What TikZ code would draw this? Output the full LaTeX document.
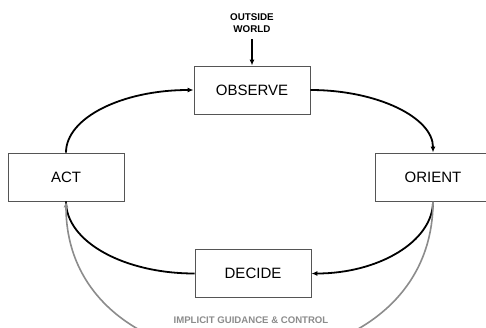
\documentclass[tikz,border=0pt]{standalone}
\usepackage{fontspec}
\setmainfont{Liberation Sans}
\usetikzlibrary{arrows.meta}
\definecolor{boxline}{HTML}{555555}
\definecolor{guide}{HTML}{8C8C8C}
\begin{document}
\begin{tikzpicture}[x=1pt,y=-1pt,
  stagebox/.style={draw=boxline,line width=0.9pt,fill=white,minimum width=116pt,minimum height=48pt,inner sep=0pt,font=\fontsize{15}{18}\selectfont},
  loop/.style={line width=1.8pt,black,-{Latex[length=6pt,width=5pt]}},
  plainloop/.style={line width=1.8pt,black},
  guidearrow/.style={line width=1.6pt,guide,-{Latex[length=6pt,width=5pt]}},
  smalllabel/.style={font=\bfseries\fontsize{9.8}{11.5}\selectfont,align=center,inner sep=0pt}]
\useasboundingbox (0,0) rectangle (486,327);
\fill[white] (0,0) rectangle (486,327);
\node[stagebox] (observe) at (252,90) {OBSERVE};
\node[stagebox] (act) at (66,177) {ACT};
\node[stagebox] (orient) at (433,177) {ORIENT};
\node[stagebox] (decide) at (253,273.5) {DECIDE};
\node[smalllabel] (world) at (252,23) {OUTSIDE\\WORLD};
\coordinate (worldend) at (252,39);
\node[smalllabel,text=guide,font=\bfseries\fontsize{9.6}{11}\selectfont] (implicit) at (251,320.5) {IMPLICIT GUIDANCE \& CONTROL};
\draw[loop] (worldend) -- (observe.north);
\draw[loop] (act.north) .. controls +(0,-35) and +(-71,0) .. (observe.west);
\draw[loop] (observe.east) .. controls +(67,0) and +(0,-35) .. (orient.north);
\draw[loop] (orient.south) .. controls +(0,40) and +(67,0) .. (decide.east);
\draw[plainloop] (decide.west) .. controls +(-71,0) and +(0,40) .. (act.south);
\draw[guidearrow] (orient.south) .. controls +(0,206) and +(0,206) .. (act.south);
\end{tikzpicture}
\end{document}
